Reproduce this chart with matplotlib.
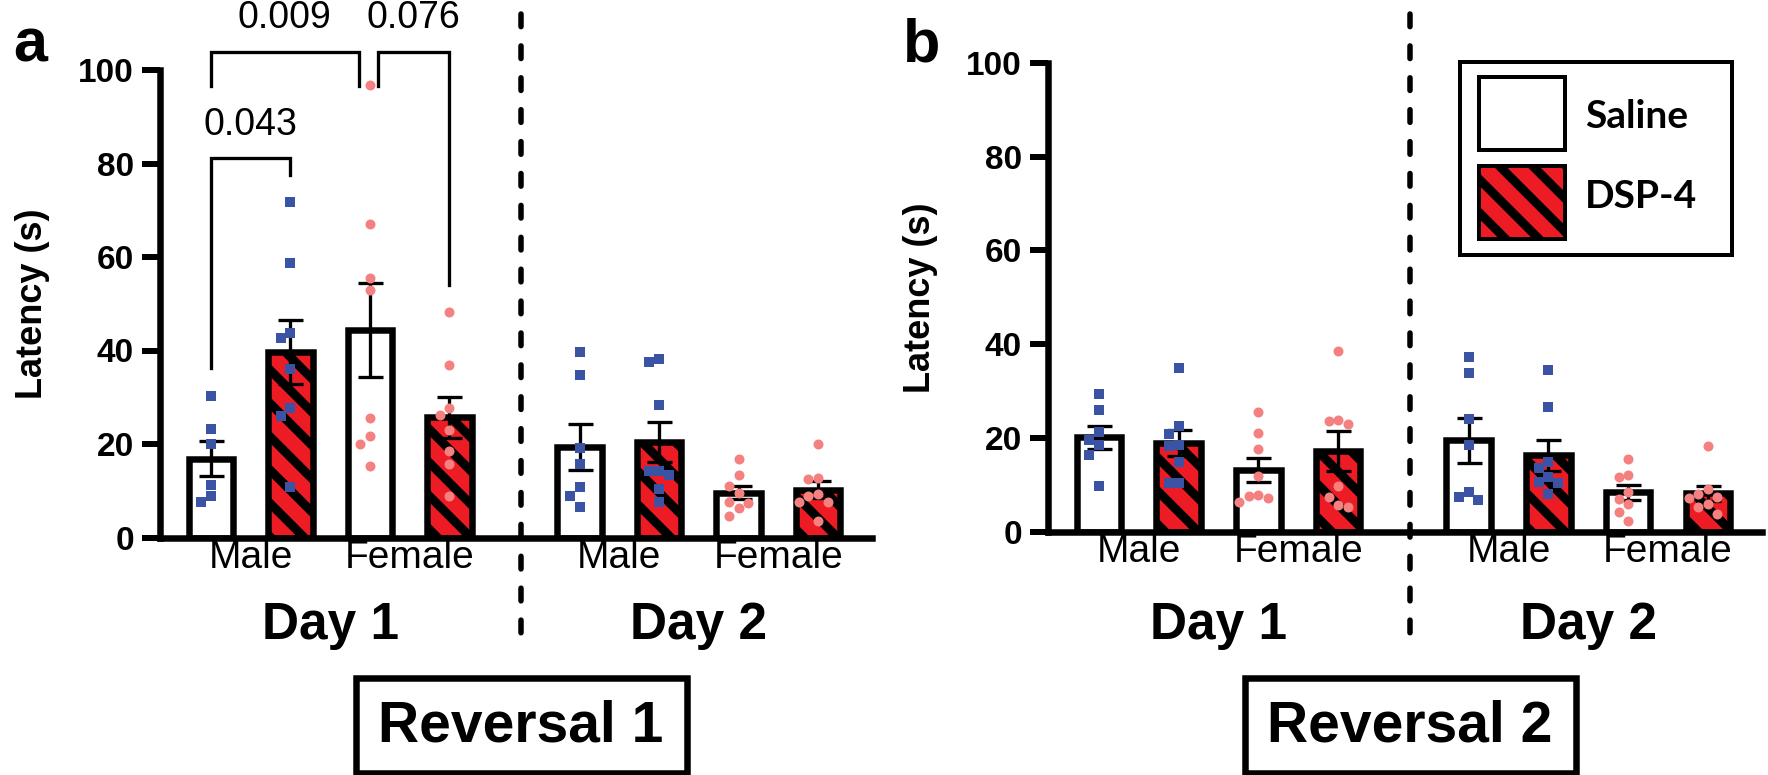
import numpy as np
import matplotlib
matplotlib.use("Agg")
import matplotlib.pyplot as plt
from matplotlib.patches import Rectangle
from matplotlib import transforms

plt.rcParams['font.family'] = ['Liberation Sans', 'DejaVu Sans']
plt.rcParams['hatch.linewidth'] = 3.2

DPI = 200
W, H = 1768, 775
PT = 72.0 / DPI   # points per pixel

days = ['Day 1', 'Day 2']
sexes = ['Male', 'Female']
treatments = ['Saline', 'DSP-4']
panels = ['Reversal 1', 'Reversal 2']

# latency (s) per animal
# Reversal 1
r1_d1_male_sal = [30.2, 23.3, 19.9, 11.3, 8.8, 7.5]
r1_d1_male_dsp = [71.7, 58.7, 43.7, 42.6, 36.0, 27.8, 26.0, 10.7]
r1_d1_fem_sal = [96.8, 67.0, 55.5, 52.9, 25.5, 21.8, 20.1, 15.4]
r1_d1_fem_dsp = [48.2, 37.0, 27.8, 26.3, 23.1, 18.4, 15.8, 8.8]
r1_d2_male_sal = [39.6, 34.7, 19.1, 15.8, 10.7, 8.8, 6.6]
r1_d2_male_dsp = [38.1, 37.5, 28.3, 14.3, 14.3, 13.3, 10.3, 7.5]
r1_d2_fem_sal = [16.7, 13.3, 11.1, 9.6, 7.7, 7.3, 6.4, 4.7]
r1_d2_fem_dsp = [20.1, 12.8, 12.6, 9.2, 8.8, 7.5, 7.5, 3.6]
# Reversal 2
r2_d1_male_sal = [29.4, 26.0, 21.3, 19.6, 18.6, 16.4, 9.8]
r2_d1_male_dsp = [35.0, 22.6, 20.9, 18.6, 18.3, 14.9, 10.4, 10.4]
r2_d1_fem_sal = [25.6, 21.1, 17.7, 11.9, 7.9, 7.7, 7.2, 6.4]
r2_d1_fem_dsp = [38.6, 23.9, 23.7, 23.0, 9.8, 7.5, 5.8, 5.3]
r2_d2_male_sal = [37.3, 33.9, 24.1, 18.6, 8.5, 7.5, 6.8]
r2_d2_male_dsp = [34.5, 26.7, 14.9, 13.6, 11.7, 10.7, 10.4, 8.1]
r2_d2_fem_sal = [15.6, 12.1, 11.7, 8.5, 7.0, 6.0, 4.1, 2.3]
r2_d2_fem_dsp = [18.3, 9.2, 8.1, 7.5, 7.2, 6.0, 5.3, 3.8]

# [day][sex][treatment]
rev1 = [[[r1_d1_male_sal, r1_d1_male_dsp], [r1_d1_fem_sal, r1_d1_fem_dsp]],
        [[r1_d2_male_sal, r1_d2_male_dsp], [r1_d2_fem_sal, r1_d2_fem_dsp]]]
rev2 = [[[r2_d1_male_sal, r2_d1_male_dsp], [r2_d1_fem_sal, r2_d1_fem_dsp]],
        [[r2_d2_male_sal, r2_d2_male_dsp], [r2_d2_fem_sal, r2_d2_fem_dsp]]]

# p-value brackets on Reversal 1
comp_x1 = [0, 0, 2.1]
comp_x2 = [1, 1.86, 3]
comp_y = [81.2, 103.9, 103.9]
comp_left_end = [36.3, 96.6, 96.6]
comp_right_end = [77.5, 96.6, 54.0]
comp_labels = ['0.043', '0.009', '0.076']

RED = '#ed1c24'
BLUE = '#3b53a4'
PINK = '#f48080'
DAY_GAP = 4.64
SPLIT = 3.9
HATCH = '\\\\'


def swarm(vals, x0, thr=2.5, step=0.12):
    vals = np.asarray(vals, dtype=float)
    order = np.argsort(vals)[::-1]
    off = np.zeros(len(vals))
    placed = []
    cands = [0, -step, step, -2 * step, 2 * step]
    for k in order:
        pick = cands[-1]
        for c in cands:
            hit = False
            for j in placed:
                if abs(vals[k] - vals[j]) < thr and abs(c - off[j]) < step * 0.9:
                    hit = True
                    break
            if not hit:
                pick = c
                break
        off[k] = pick
        placed.append(k)
    return x0 + off


fig = plt.figure(figsize=(W / DPI, H / DPI), dpi=DPI)
axa = fig.add_axes([160 / W, 1 - 537.5 / H, 712 / W, 467.5 / H])
axb = fig.add_axes([1048 / W, 1 - 531.7 / H, 714 / W, 468.7 / H])

for ax, data, title in zip([axa, axb], [rev1, rev2], panels):
    for d in range(2):
        for s in range(2):
            for t in range(2):
                vals = np.array(data[d][s][t])
                x = d * DAY_GAP + 2 * s + t
                m = vals.mean()
                sem = vals.std(ddof=1) / np.sqrt(len(vals))
                bars = ax.bar(x, m, width=0.56, color=RED if t else 'white',
                              edgecolor='black', linewidth=6.5 * PT,
                              hatch=HATCH if t else None, zorder=2)
                for b in bars:
                    b.set_joinstyle('miter')
                ax.errorbar(x, m, yerr=sem, fmt='none', ecolor='black',
                            elinewidth=3.3 * PT, capsize=12.5 * PT,
                            capthick=3.3 * PT, zorder=3)
                ax.plot(swarm(vals, x), vals, linestyle='none',
                        marker='s' if s == 0 else 'o', markersize=10 * PT,
                        markeredgewidth=0, color=BLUE if s == 0 else PINK,
                        zorder=4, clip_on=False)

    ax.set_xlim(-0.64, 8.32)
    ax.set_ylim(0, 100)
    for sp in ['top', 'right']:
        ax.spines[sp].set_visible(False)
    for sp in ['left', 'bottom']:
        ax.spines[sp].set_linewidth(6.5 * PT)
        ax.spines[sp].set_capstyle('projecting')
    ax.set_yticks([0, 20, 40, 60, 80, 100])
    ax.tick_params(axis='y', length=18 * PT, width=6 * PT, pad=8 * PT, labelsize=12)
    for lab in ax.get_yticklabels():
        lab.set_fontweight('bold')
    centers = [d * DAY_GAP + 2 * s + 0.5 for d in range(2) for s in range(2)]
    ax.set_xticks(centers, sexes * 2)
    ax.tick_params(axis='x', length=0, pad=1, labelsize=14)
    ax.set_ylabel('Latency (s)', fontsize=13, fontweight='bold')
    ax.yaxis.set_label_coords(-110 / 712, 0.5)

    mix = transforms.blended_transform_factory(ax.transData, fig.transFigure)
    ax.plot([SPLIT, SPLIT], [1 - 14 / H, 1 - 643 / H], transform=mix,
            color='black', linewidth=5.5 * PT, linestyle=(0, (2.3, 3.5)),
            dash_capstyle='round', clip_on=False)
    for d in range(2):
        fig.text(d * DAY_GAP + 1.5, 1 - 626 / H, days[d], transform=mix,
                 ha='center', va='center', fontsize=18.5, fontweight='bold')

    cx = fig.transFigure.inverted().transform(ax.transData.transform((SPLIT, 0)))[0]
    fig.add_artist(Rectangle((cx - 165 / W, 1 - 773 / H), 331 / W, 95 / H,
                             transform=fig.transFigure, fill=False,
                             edgecolor='black', linewidth=6.5 * PT,
                             joinstyle='miter'))
    fig.text(cx, 1 - 726 / H, title, ha='center', va='center',
             fontsize=20.5, fontweight='bold')

# significance brackets
for x1, x2, y, e1, e2, lab in zip(comp_x1, comp_x2, comp_y, comp_left_end,
                                  comp_right_end, comp_labels):
    axa.plot([x1, x1, x2, x2], [e1, y, y, e2], color='black',
             linewidth=3.3 * PT, solid_joinstyle='miter', clip_on=False, zorder=5)
    axa.text((x1 + x2) / 2, y + 5, lab, ha='center', va='baseline', fontsize=13.5)

# panel letters
fig.text(30 / W, 1 - 62 / H, 'a', ha='center', va='baseline', fontsize=22, fontweight='bold')
fig.text(922 / W, 1 - 62 / H, 'b', ha='center', va='baseline', fontsize=22, fontweight='bold')

# legend
fig.add_artist(Rectangle((1460 / W, 1 - 255 / H), 272 / W, 193 / H,
                         transform=fig.transFigure, fill=False,
                         edgecolor='black', linewidth=4 * PT, joinstyle='miter'))
fig.add_artist(Rectangle((1479 / W, 1 - 150 / H), 86 / W, 73 / H,
                         transform=fig.transFigure, facecolor='white',
                         edgecolor='black', linewidth=4 * PT, joinstyle='miter'))
fig.add_artist(Rectangle((1479 / W, 1 - 239 / H), 86 / W, 73 / H,
                         transform=fig.transFigure, facecolor=RED, hatch=HATCH,
                         edgecolor='black', linewidth=4 * PT, joinstyle='miter'))
fig.text(1585 / W, 1 - 117 / H, treatments[0], ha='left', va='center',
         fontsize=14, fontweight='bold', family=['Lato', 'DejaVu Sans'])
fig.text(1585 / W, 1 - 197 / H, treatments[1], ha='left', va='center',
         fontsize=14, fontweight='bold', family=['Lato', 'DejaVu Sans'])

fig.savefig('out.png', dpi=DPI)
